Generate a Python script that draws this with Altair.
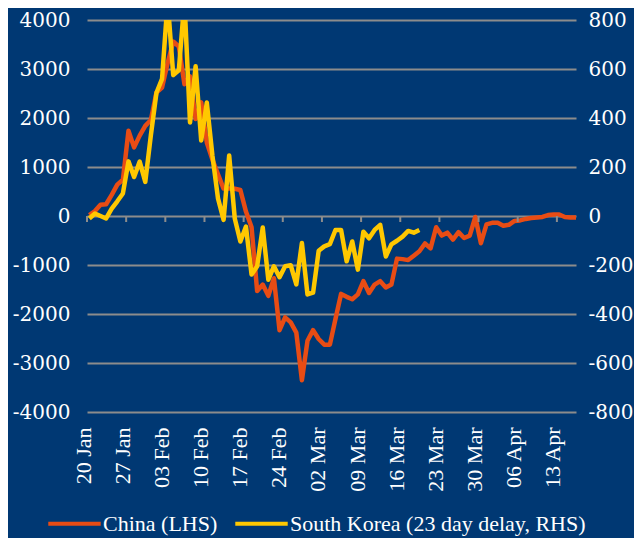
import altair as alt
import pandas as pd

BG = "#003873"
GRID = "#8C8C8C"
FONT = "Liberation Serif"
NUM_FONT = "DejaVu Serif"

start_date = "2020-01-20"
series_names = ["China (LHS)", "South Korea (23 day delay, RHS)"]
series_colors = ["#E84C14", "#FFC800"]

china = [20, 100, 230, 240, 430, 640, 740, 1740, 1400, 1640,
         1840, 1960, 2520, 2620, 3120, 3560, 3460, 2690, 2850, 1980,
         2320, 1500, 1150, 850, 560, 560, 555, 530, 90, -230,
         -1530, -1400, -1630, -1270, -2330, -2070, -2170, -2380, -3350, -2545,
         -2330, -2510, -2625, -2625, -2100, -1590, -1650, -1700, -1600, -1330,
         -1570, -1400, -1330, -1460, -1400, -870, -880, -900, -810, -720,
         -560, -660, -230, -400, -340, -480, -330, -450, -400, -20,
         -555, -170, -140, -140, -200, -180, -100, -90, -60, -40,
         -30, -20, 20, 30, 30, -20, -30, -30]

korea = [-10, 10, 0, -10, 30, 60, 92, 223, 159, 222,
         139, 330, 503, 560, 880, 575, 595, 880, 382, 611,
         308, 463, 247, 72, -16, 247, -10, -104, -43, -239,
         -205, -47, -260, -205, -250, -205, -201, -279, -110, -320,
         -313, -142, -124, -115, -57, -57, -185, -104, -219, -64,
         -91, -57, -36, -165, -116, -101, -84, -61, -68, -57]

week_ticks = ["2020-01-20", "2020-01-27", "2020-02-03", "2020-02-10", "2020-02-17",
              "2020-02-24", "2020-03-02", "2020-03-09", "2020-03-16", "2020-03-23",
              "2020-03-30", "2020-04-06", "2020-04-13"]
left_ticks = [-4000, -3000, -2000, -1000, 0, 1000, 2000, 3000, 4000]
right_ticks = [-800, -600, -400, -200, 0, 200, 400, 600, 800]

# points sit in the middle of each daily category
offset = pd.Timedelta(hours=10)
df_c = pd.DataFrame({
    "date": pd.date_range(start_date, periods=len(china), freq="D") + offset,
    "value": china, "series": series_names[0]})
df_k = pd.DataFrame({
    "date": pd.date_range(start_date, periods=len(korea), freq="D") + offset,
    "value": korea, "series": series_names[1]})
df_t = pd.DataFrame({"date": pd.to_datetime(week_ticks)})

def dt(s):
    t = pd.Timestamp(s)
    return alt.DateTime(year=t.year, month=t.month, date=t.day, hours=t.hour)

x_scale = alt.Scale(domain=[dt("2020-01-20"), dt("2020-04-16 10:00")])
x_axis = alt.Axis(values=[dt(s) for s in week_ticks], format="%d %b", labelAngle=270,
                  ticks=False, tickSize=0, domain=False, grid=False, labelFont=FONT,
                  labelFontSize=22, labelColor="white", labelPadding=15,
                  labelOverlap=False, labelFlush=False, labelOffset=-4, title=None)

color = alt.Color("series:N", scale=alt.Scale(domain=series_names, range=series_colors),
                  legend=alt.Legend(orient="none", legendX=-41, legendY=475,
                                    direction="horizontal", symbolType="stroke",
                                    symbolStrokeWidth=4, symbolSize=2750,
                                    labelFont=FONT, labelFontSize=22, labelColor="white",
                                    labelLimit=0, columnPadding=9, labelOffset=0,
                                    title=None, padding=0))

china_line = alt.Chart(df_c).mark_line(strokeWidth=4.5, clip=True, strokeJoin="round").encode(
    x=alt.X("date:T", scale=x_scale, axis=x_axis),
    y=alt.Y("value:Q", scale=alt.Scale(domain=[-4000, 4000], nice=False),
            axis=alt.Axis(orient="left", values=left_ticks, labelExpr="datum.value + ''",
                          grid=True, gridColor=GRID, gridWidth=2, domain=False, ticks=False,
                          tickSize=0, labelPadding=17, labelFont=NUM_FONT, labelFontSize=20,
                          labelColor="white", title=None)),
    color=color,
)

tick_layer = alt.Chart(df_t).mark_rule(color=GRID, strokeWidth=2, y2Offset=6).encode(
    x=alt.X("date:T", scale=x_scale),
    y=alt.YDatum(0, type="quantitative", scale=alt.Scale(domain=[-4000, 4000], nice=False), axis=None),
    y2=alt.Y2Datum(0),
)

korea_line = alt.Chart(df_k).mark_line(strokeWidth=4.5, clip=True, strokeJoin="round").encode(
    x=alt.X("date:T", scale=x_scale),
    y=alt.Y("value:Q", scale=alt.Scale(domain=[-800, 800], nice=False),
            axis=alt.Axis(orient="right", values=right_ticks, labelExpr="datum.value + ''",
                          grid=False, domain=False, ticks=False, tickSize=0, labelPadding=12,
                          labelFont=NUM_FONT, labelFontSize=20, labelColor="white", title=None)),
    color=alt.Color("series:N", scale=alt.Scale(domain=series_names, range=series_colors)),
)

chart = alt.layer(china_line, tick_layer, korea_line).resolve_scale(y="independent").properties(
    width=489, height=392,
    padding={"left": 79, "top": 12, "right": 58, "bottom": 126},
    autosize=alt.AutoSizeParams(type="none"),
    background=BG,
).configure_view(stroke=None)

chart.save("out.html", embed_options={"renderer": "svg", "actions": False})
